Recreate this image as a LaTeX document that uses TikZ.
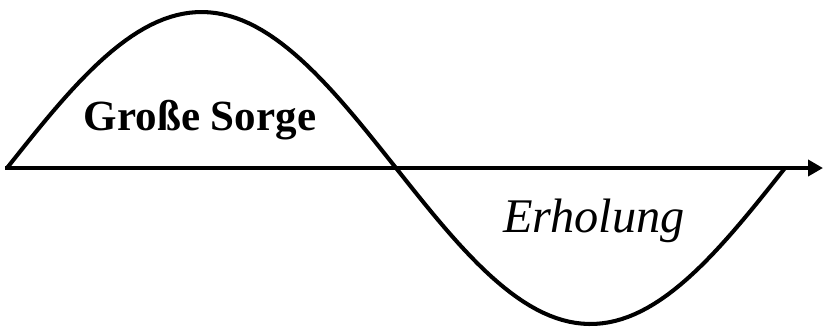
\documentclass[tikz,border=0pt]{standalone}
\usepackage{fontspec}
\setmainfont{Liberation Serif}
\usetikzlibrary{arrows.meta}

\begin{document}
\begin{tikzpicture}[x=0.02cm,y=-0.02cm,every node/.style={inner sep=0pt},
  wave/.style={line width=2.3pt,line join=round},
  axisline/.style={line width=2.3pt,-{Triangle[length=0.3cm,width=0.32cm]}}]
  \useasboundingbox (0,0) rectangle (824,329);
  % axis
  \coordinate (origin) at (5,168);
  \coordinate (tip) at (823,168);
  \draw[axisline] (origin) -- (tip);
  % one full period of the wave
  \draw[wave] plot[domain=0:360,samples=120] ({7+2.1611*\x},{168-156*sin(\x)});
  \node[anchor=base,font=\fontsize{24.5}{28}\selectfont\bfseries] (sorge) at (200,130) {Große Sorge};
  \node[anchor=base,font=\fontsize{27.5}{32}\selectfont\itshape] (erholung) at (594,232) {Erholung};
\end{tikzpicture}
\end{document}
